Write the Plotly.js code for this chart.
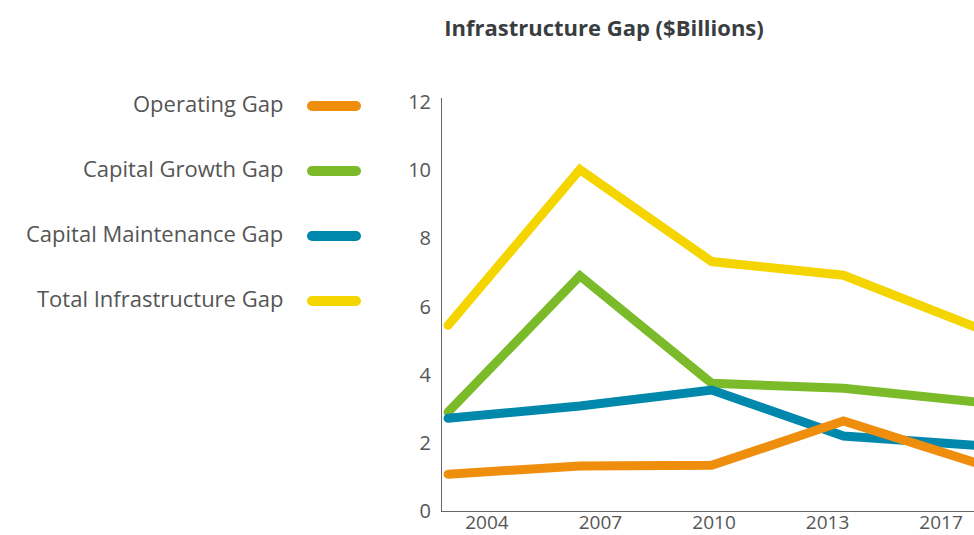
<!DOCTYPE html>
<html>
<head>
<meta charset="utf-8">
<script src="https://cdn.plot.ly/plotly-3.0.1.min.js"></script>
<style>html,body{margin:0;padding:0;background:#fff;}#chart{width:974px;height:535px;}</style>
</head>
<body>
<div id="chart"></div>
<script>
// ---- data ----
var years = ['2004', '2007', '2010', '2013', '2017'];
var seriesNames = ['Operating Gap', 'Capital Growth Gap', 'Capital Maintenance Gap', 'Total Infrastructure Gap'];
var seriesColors = ['#ef8e0c', '#7bbb2a', '#0087ac', '#f5d500'];
var operatingGap = [1.08, 1.32, 1.34, 2.64, 1.42];
var capitalGrowthGap = [2.9, 6.9, 3.75, 3.6, 3.2];
var capitalMaintenanceGap = [2.72, 3.08, 3.55, 2.2, 1.93];
var totalInfrastructureGap = [5.45, 10.02, 7.32, 6.92, 5.4];
var yTicks = [0, 2, 4, 6, 8, 10, 12];

var seriesValues = [operatingGap, capitalGrowthGap, capitalMaintenanceGap, totalInfrastructureGap];

var traces = [];
// invisible trace that anchors the labelled category axis
traces.push({x: years, y: [0,0,0,0,0], xaxis: 'x', yaxis: 'y', mode: 'none', type: 'scatter', showlegend: false, hoverinfo: 'skip'});
// draw order: total, growth, maintenance, operating (operating on top)
[3, 1, 2, 0].forEach(function (i) {
  traces.push({
    x: years, y: seriesValues[i], name: seriesNames[i],
    xaxis: 'x2', yaxis: 'y',
    type: 'scatter', mode: 'lines',
    line: {color: seriesColors[i], width: 9},
    showlegend: false
  });
});

var font = {family: '"Open Sans", "Noto Sans", sans-serif', color: '#555555'};

var annotations = [];
var shapes = [];
var legendY = [103, 168, 233, 298];
seriesNames.forEach(function (n, i) {
  annotations.push({
    xref: 'paper', yref: 'paper',
    x: (285 - 442) / 532, y: 1 - (legendY[i] - 98) / 413,
    xanchor: 'right', yanchor: 'middle', showarrow: false,
    text: n, font: {family: font.family, color: '#555555', size: 22}
  });
  shapes.push({
    type: 'line', xref: 'paper', yref: 'paper',
    x0: (312 - 442) / 532, x1: (356 - 442) / 532,
    y0: 1 - (legendY[i] + 3 - 98) / 413, y1: 1 - (legendY[i] + 3 - 98) / 413,
    line: {color: seriesColors[i], width: 10}
  });
});

var layout = {
  width: 974, height: 535,
  margin: {l: 442, r: 0, t: 98, b: 24, pad: 0},
  paper_bgcolor: '#ffffff', plot_bgcolor: '#ffffff',
  showlegend: false,
  font: font,
  title: {
    text: '<b>Infrastructure Gap ($Billions)</b>',
    x: 604 / 974, xanchor: 'center', xref: 'container',
    y: 1 - 28 / 535, yanchor: 'middle', yref: 'container',
    font: {family: font.family, size: 22, color: '#3a3d40'}
  },
  xaxis: {
    type: 'category', range: [-0.396, 4.29],
    showgrid: false, zeroline: false,
    showline: true, linecolor: '#666666', linewidth: 1,
    ticks: '', ticklabelstandoff: -6,
    tickfont: {size: 19, color: '#555555', family: font.family},
    fixedrange: true
  },
  xaxis2: {
    type: 'category', overlaying: 'x', range: [-0.046, 3.99],
    visible: false, fixedrange: true
  },
  yaxis: {
    range: [0, 12.12], tickvals: yTicks, ticktext: yTicks.map(String),
    showgrid: false, zeroline: false,
    showline: true, linecolor: '#666666', linewidth: 1,
    ticks: '', ticklabelstandoff: 6,
    tickfont: {size: 20, color: '#555555', family: font.family},
    fixedrange: true
  },
  annotations: annotations,
  shapes: shapes
};

Plotly.newPlot('chart', traces, layout, {displayModeBar: false, staticPlot: true}).then(function (gd) {
  gd.querySelectorAll('.scatterlayer path.js-line').forEach(function (p) {
    p.style.strokeLinecap = 'round';
    p.style.strokeLinejoin = 'miter';
  });
  gd.querySelectorAll('.shapelayer path').forEach(function (p) {
    p.style.strokeLinecap = 'round';
  });
});
</script>
</body>
</html>
